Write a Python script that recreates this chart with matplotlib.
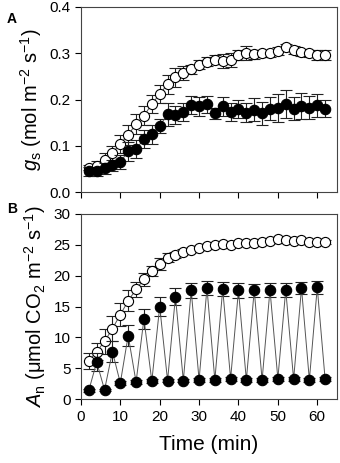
import numpy as np
import matplotlib
matplotlib.use("Agg")
from matplotlib import pyplot as plt

plt.rcParams['font.family'] = ['Liberation Sans', 'DejaVu Sans']
plt.rcParams['mathtext.fontset'] = 'custom'
plt.rcParams['mathtext.it'] = 'Liberation Sans:italic'
plt.rcParams['mathtext.rm'] = 'Liberation Sans'

time = [2, 4, 6, 8, 10, 12, 14, 16, 18, 20, 22, 24, 26, 28, 30, 32,
        34, 36, 38, 40, 42, 44, 46, 48, 50, 52, 54, 56, 58, 60, 62]

# panel A: stomatal conductance
gs_open = [0.053, 0.057, 0.070, 0.085, 0.104, 0.124, 0.147, 0.165, 0.190, 0.212,
           0.233, 0.248, 0.257, 0.265, 0.275, 0.282, 0.286, 0.284, 0.286, 0.296,
           0.300, 0.298, 0.300, 0.300, 0.305, 0.313, 0.307, 0.302, 0.300, 0.296, 0.296]
gs_open_err = [0.005, 0.010, 0.015, 0.015, 0.020, 0.022, 0.022, 0.020, 0.020, 0.020,
               0.020, 0.020, 0.015, 0.010, 0.010, 0.010, 0.010, 0.015, 0.015, 0.010,
               0.015, 0.010, 0.008, 0.008, 0.008, 0.008, 0.008, 0.008, 0.008, 0.010, 0.010]
gs_fill = [0.045, 0.045, 0.052, 0.058, 0.065, 0.088, 0.093, 0.115, 0.125, 0.143,
           0.168, 0.167, 0.173, 0.188, 0.185, 0.190, 0.170, 0.185, 0.173, 0.180,
           0.172, 0.178, 0.170, 0.180, 0.182, 0.190, 0.180, 0.186, 0.182, 0.188, 0.180]
gs_fill_err = [0.010, 0.010, 0.012, 0.012, 0.015, 0.020, 0.020, 0.020, 0.020, 0.015,
               0.025, 0.020, 0.020, 0.020, 0.020, 0.018, 0.012, 0.020, 0.020, 0.020,
               0.020, 0.025, 0.025, 0.025, 0.030, 0.030, 0.025, 0.028, 0.025, 0.025, 0.018]

# panel B: net assimilation
an_open = [6.2, 7.7, 9.35, 11.4, 13.7, 15.9, 17.8, 19.4, 20.7, 21.9,
           22.9, 23.4, 23.9, 24.2, 24.5, 24.8, 24.9, 25.1, 24.9, 25.3,
           25.3, 25.3, 25.4, 25.6, 25.9, 25.7, 25.6, 25.7, 25.5, 25.5, 25.4]
an_open_err = [1.3, 1.4, 2.0, 2.0, 1.9, 1.7, 1.2, 1.0, 0.8, 1.0,
               0.7, 0.5, 0.4, 0.3, 0.3, 0.3, 0.3, 0.3, 0.3, 0.3,
               0.3, 0.3, 0.3, 0.3, 0.3, 0.3, 0.3, 0.3, 0.3, 0.3, 0.3]
an_fill = [1.4, 6.0, 1.5, 7.7, 2.6, 10.3, 2.75, 13.0, 2.9, 15.0,
           3.0, 16.6, 3.0, 17.6, 3.1, 18.0, 3.1, 17.8, 3.3, 17.6,
           3.1, 17.6, 3.1, 17.7, 3.3, 17.7, 3.2, 18.0, 3.1, 18.1, 3.2]
an_fill_err = [0.2, 1.5, 0.2, 1.7, 0.3, 1.7, 0.3, 1.6, 0.3, 1.5,
               0.3, 1.4, 0.3, 1.2, 0.3, 1.1, 0.3, 1.1, 0.3, 1.2,
               0.3, 1.1, 0.3, 1.1, 0.3, 1.1, 0.3, 1.0, 0.3, 1.0, 0.3]

fig = plt.figure(figsize=(3.4, 4.63), dpi=100)
axA = fig.add_axes([0.238, 0.585, 0.753, 0.40])
axB = fig.add_axes([0.238, 0.138, 0.753, 0.40])


def draw(ax, y1, e1, y2, e2):
    ebkw = dict(ecolor='#222222', elinewidth=0.8, capsize=4, capthick=0.8,
                color='#555555', lw=0.7)
    ax.errorbar(time, y1, yerr=e1, fmt='-o', mfc='white', mec='black',
                mew=0.8, ms=7.3, zorder=2, **ebkw)
    ax.errorbar(time, y2, yerr=e2, fmt='-o', mfc='black', mec='black',
                mew=0.8, ms=7.5, zorder=3, **ebkw)
    ax.set_xlim(0, 65)
    ax.set_xticks(range(0, 61, 10))
    ax.tick_params(direction='out', length=4, width=0.8, labelsize=11,
                   top=False, right=False)
    for s in ax.spines.values():
        s.set_linewidth(0.8)
        s.set_color('#444444')


draw(axA, gs_open, gs_open_err, gs_fill, gs_fill_err)
axA.set_ylim(0, 0.4)
axA.set_yticks([0.0, 0.1, 0.2, 0.3, 0.4])
axA.set_yticklabels(['0.0', '0.1', '0.2', '0.3', '0.4'])
axA.set_xticklabels([])
axA.set_ylabel(r'$g_{\mathrm{s}}$ (mol m$^{-2}$ s$^{-1}$)', fontsize=14.5, labelpad=4)

draw(axB, an_open, an_open_err, an_fill, an_fill_err)
axB.set_ylim(0, 30)
axB.set_yticks(range(0, 31, 5))
axB.set_ylabel(r'$A_{\mathrm{n}}$ ($\mathrm{\mu}$mol CO$_2$ m$^{-2}$ s$^{-1}$)',
               fontsize=14.5, labelpad=4)
axB.set_xlabel('Time (min)', fontsize=15, labelpad=8)

fig.text(0.02, 0.975, 'A', fontsize=10, fontweight='bold', va='top')
fig.text(0.02, 0.563, 'B', fontsize=10, fontweight='bold', va='top')

fig.savefig('out.png', dpi=100)
